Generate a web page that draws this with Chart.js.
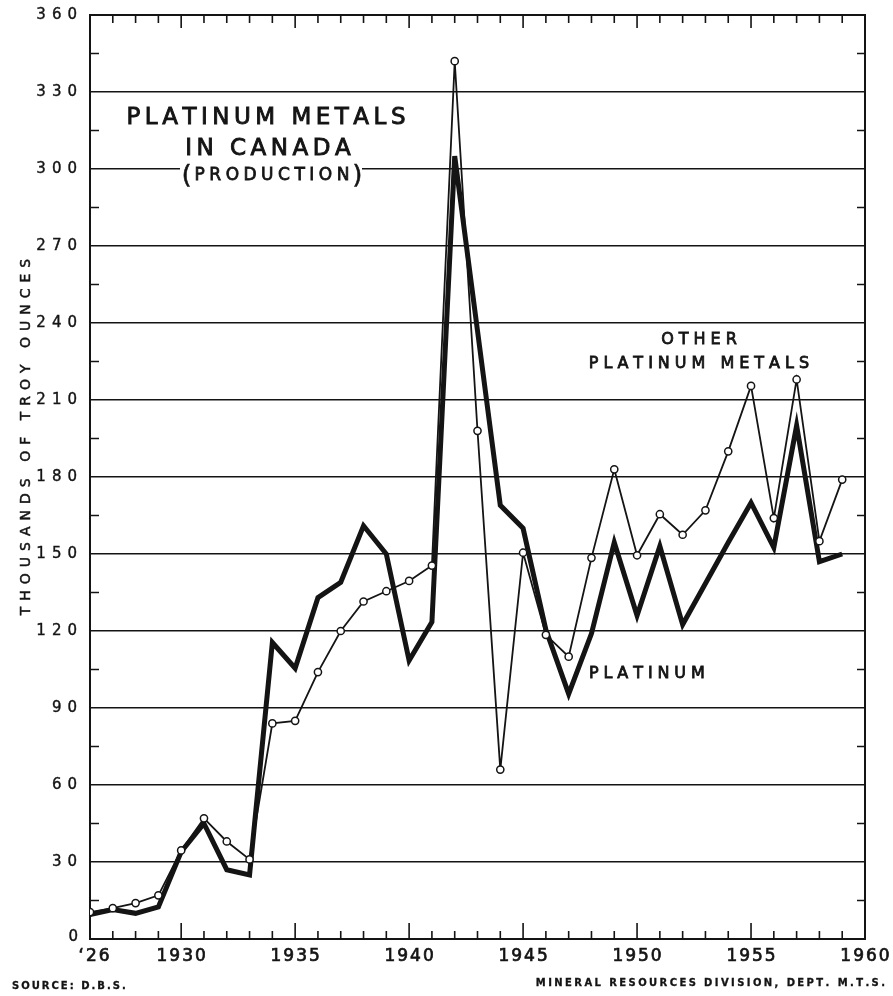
<!DOCTYPE html>
<html lang="en">
<head>
<meta charset="UTF-8">
<title>Platinum Metals in Canada</title>
<style>
  html,body{margin:0;padding:0;background:#fff;}
  #wrap{width:893px;height:996px;}
</style>
<script src="https://cdn.jsdelivr.net/npm/chart.js@4.4.0/dist/chart.umd.min.js"></script>
</head>
<body>
<div id="wrap"><canvas id="chart" width="893" height="996"></canvas></div>
<script>
const years = [1926,1927,1928,1929,1930,1931,1932,1933,1934,1935,1936,1937,1938,1939,1940,1941,1942,
               1943,1944,1945,1946,1947,1948,1949,1950,1951,1952,1953,1954,1955,1956,1957,1958,1959];
const platinum = [9.5,11.5,10,12.5,34,45,27,25,115.5,105.5,133,139,161,150,108.5,123.5,305,
                  237,169,160,120.5,95.5,119,154.5,126,153,122.5,138.5,154.5,170,152.5,200,147,150];
const otherMetals = [10.5,12,14,17,34.5,47,38,31,84,85,104,120,131.5,135.5,139.5,145.5,342,
                     198,66,150.5,118.5,110,148.5,183,149.5,165.5,157.5,167,190,215.5,164,218,155,179];

const yTicks = [0,30,60,90,120,150,180,210,240,270,300,330,360];
const xTickYears = [1926,1930,1935,1940,1945,1950,1955,1960];
const xTickLabels = ["\u201826","1930","1935","1940","1945","1950","1955","1960"];

const INK = '#141414';
const FONT = '"DejaVu Sans", sans-serif';

// draw text char by char so the wide lettering spacing can be copied;
// a thin stroke gives the heavier pen weight of the original lettering
function spaced(ctx, text, x, y, gap, align, weight) {
  const ws = [];
  let w = 0;
  for (const ch of text) { const cw = ctx.measureText(ch).width; ws.push(cw); w += cw; }
  w += gap * (ws.length - 1);
  let cx = align === 'center' ? x - w / 2 : align === 'right' ? x - w : x;
  ctx.textAlign = 'left';
  ctx.lineWidth = weight || 0.7;
  ctx.strokeStyle = ctx.fillStyle;
  let i = 0;
  for (const ch of text) {
    ctx.fillText(ch, cx, y);
    ctx.strokeText(ch, cx, y);
    cx += ws[i++] + gap;
  }
  return w;
}

const decor = {
  id: 'decor',
  beforeDatasetsDraw(chart) {
    const {ctx, chartArea: a, scales: {x, y}} = chart;
    ctx.save();
    ctx.fillStyle = INK;
    ctx.strokeStyle = INK;

    // frame
    ctx.lineWidth = 2;
    ctx.strokeRect(a.left, a.top, a.right - a.left, a.bottom - a.top);

    // year ticks, top and bottom, pointing inside
    ctx.lineWidth = 1.6;
    ctx.beginPath();
    for (let yr = 1927; yr < 1960; yr++) {
      const px = x.getPixelForValue(yr);
      const big = yr % 5 === 0;
      ctx.moveTo(px, a.bottom); ctx.lineTo(px, a.bottom - (big ? 16 : 8));
      ctx.moveTo(px, a.top); ctx.lineTo(px, a.top + (big ? 13 : 8));
    }
    // half-step ticks on left and right
    for (let v = 15; v < 360; v += 30) {
      const py = y.getPixelForValue(v);
      ctx.moveTo(a.left, py); ctx.lineTo(a.left + 9, py);
      ctx.moveTo(a.right, py); ctx.lineTo(a.right - 8, py);
    }
    ctx.stroke();

    // title block
    ctx.textBaseline = 'alphabetic';
    ctx.font = '23px ' + FONT;
    spaced(ctx, 'PLATINUM METALS', 266, 124, 4.5, 'center', 0.9);
    spaced(ctx, 'IN CANADA', 268, 155, 4.5, 'center', 0.9);
    ctx.fillStyle = '#fff';
    ctx.fillRect(180, 158, 182, 32);
    ctx.fillStyle = INK;
    ctx.font = '17px ' + FONT;
    const w = spaced(ctx, 'PRODUCTION', 272, 180, 4.5, 'center', 0.8);
    ctx.font = '25px ' + FONT;
    spaced(ctx, '(', 272 - w / 2 - 3, 183, 0, 'right', 0.6);
    spaced(ctx, ')', 272 + w / 2 + 3, 183, 0, 'left', 0.6);

    // series labels
    ctx.font = '16px ' + FONT;
    spaced(ctx, 'OTHER', 699, 344, 5, 'center', 0.8);
    spaced(ctx, 'PLATINUM METALS', 699, 368, 5, 'center', 0.8);
    spaced(ctx, 'PLATINUM', 589, 678, 4.9, 'left', 0.8);
    ctx.restore();
  },
  afterDraw(chart) {
    const {ctx, chartArea: a, scales: {x, y}} = chart;
    ctx.save();
    ctx.fillStyle = INK;
    ctx.textBaseline = 'middle';

    ctx.font = '15px ' + FONT;
    yTicks.forEach(v => {
      const py = y.getPixelForValue(v);
      if (v === 0) spaced(ctx, '0', 78, py - 2, 0, 'right', 0.4);
      else spaced(ctx, String(v), 77, py, 6, 'right', 0.4);
    });

    ctx.font = '17px ' + FONT;
    xTickYears.forEach((yr, i) => {
      const px = x.getPixelForValue(yr) + (i === 0 ? 4 : 0);
      spaced(ctx, xTickLabels[i], px, a.bottom + 18, 2, 'center', 0.7);
    });

    // axis title
    ctx.save();
    ctx.translate(26, 437);
    ctx.rotate(-Math.PI / 2);
    ctx.font = '14px ' + FONT;
    spaced(ctx, 'THOUSANDS OF TROY OUNCES', 0, 0, 6, 'center', 0.5);
    ctx.restore();

    ctx.font = 'bold 10px ' + FONT;
    spaced(ctx, 'SOURCE: D.B.S.', 12, 986, 2, 'left', 0.3);
    spaced(ctx, 'MINERAL RESOURCES DIVISION, DEPT. M.T.S.', 885, 983, 2.4, 'right', 0.3);
    ctx.restore();
  }
};

new Chart(document.getElementById('chart'), {
  type: 'line',
  data: {
    labels: years,
    datasets: [
      {
        label: 'Other platinum metals',
        data: years.map((yr, i) => ({x: yr, y: otherMetals[i]})),
        borderColor: INK,
        borderWidth: 1.8,
        pointRadius: 3.6,
        pointBorderWidth: 1.5,
        pointBackgroundColor: '#fff',
        pointBorderColor: INK,
        tension: 0
      },
      {
        label: 'Platinum',
        data: years.map((yr, i) => ({x: yr, y: platinum[i]})),
        borderColor: INK,
        borderWidth: 5,
        borderJoinStyle: 'miter',
        pointRadius: 0,
        tension: 0
      }
    ]
  },
  options: {
    responsive: false,
    animation: false,
    layout: {padding: {left: 90, top: 15, right: 28, bottom: 57}},
    plugins: {legend: {display: false}, tooltip: {enabled: false}},
    scales: {
      x: {
        type: 'linear', min: 1926, max: 1960,
        display: false
      },
      y: {
        min: 0, max: 360,
        ticks: {stepSize: 30, display: false},
        grid: {color: INK, lineWidth: 1.5, drawTicks: false},
        border: {display: false}
      }
    }
  },
  plugins: [decor]
});
</script>
</body>
</html>
